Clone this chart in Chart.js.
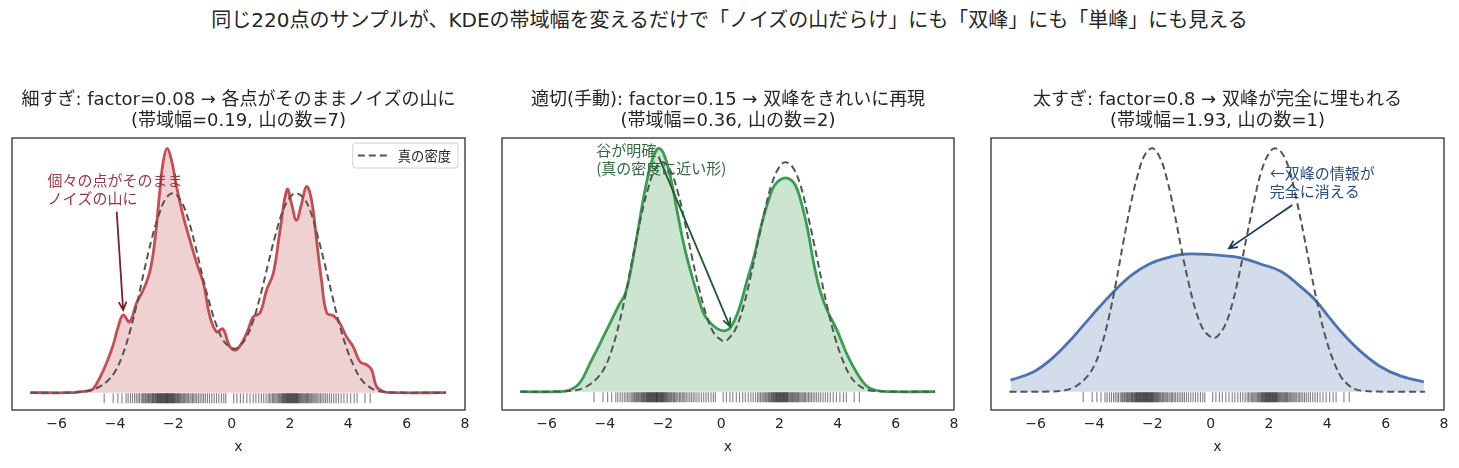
<!DOCTYPE html>
<html>
<head>
<meta charset="utf-8">
<script src="https://cdn.jsdelivr.net/npm/chart.js@4.4.1/dist/chart.umd.min.js"></script>
<style>
  body { margin: 0; background: #fff; width: 1459px; height: 468px; overflow: hidden; position: relative; }
  #sup { position: absolute; left: 0; top: 7px; width: 1459px; text-align: center; font-family: "DejaVu Sans", "Noto Sans CJK JP", sans-serif; font-size: 20px; line-height: 26px; color: #262626; }
  canvas { position: absolute; top: 0; }
</style>
</head>
<body>
<div id="sup">同じ220点のサンプルが、KDEの帯域幅を変えるだけで「ノイズの山だらけ」にも「双峰」にも「単峰」にも見える</div>
<canvas id="c1" width="477" height="468" style="left:0px"></canvas>
<canvas id="c2" width="476" height="468" style="left:490px"></canvas>
<canvas id="c3" width="477" height="468" style="left:979px"></canvas>
<script>
const xTicks = [-6, -4, -2, 0, 2, 4, 6, 8];

// 真の密度（破線）
const trueX = [-6.9, -5.5, -5.0, -4.75, -4.5, -4.25, -4.0, -3.75, -3.5, -3.25, -3.0, -2.75, -2.5, -2.25, -2.0,
  -1.75, -1.5, -1.25, -1.0, -0.75, -0.5, -0.25, 0.0, 0.1, 0.25, 0.5, 0.75, 1.0, 1.25, 1.5, 1.75, 2.0, 2.2,
  2.45, 2.7, 2.95, 3.2, 3.45, 3.7, 3.95, 4.2, 4.45, 4.7, 4.95, 5.2, 5.7, 7.35];
const trueY = [0, 0.0002, 0.0012, 0.003, 0.0065, 0.012, 0.021, 0.037, 0.06, 0.089, 0.122, 0.153, 0.178, 0.195, 0.2,
  0.193, 0.175, 0.148, 0.117, 0.089, 0.066, 0.051, 0.045, 0.044, 0.046, 0.055, 0.073, 0.099, 0.129, 0.158, 0.182, 0.196, 0.2,
  0.196, 0.182, 0.157, 0.128, 0.097, 0.068, 0.044, 0.026, 0.013, 0.006, 0.0022, 0.0008, 0.0001, 0];

// KDE factor=0.08
const narrowX = [-6.9, -5.5, -5.2, -4.9, -4.74, -4.5, -4.3, -4.06, -3.89, -3.72, -3.5, -3.26, -3.03, -2.8, -2.63,
  -2.46, -2.34, -2.21, -2.06, -1.89, -1.66, -1.43, -1.2, -0.97, -0.74, -0.51, -0.3, -0.06, 0.15, 0.35, 0.55,
  0.74, 0.97, 1.2, 1.43, 1.66, 1.9, 2.05, 2.22, 2.4, 2.57, 2.74, 2.91, 3.08, 3.26, 3.5, 3.7, 3.94, 4.17,
  4.4, 4.63, 4.8, 4.97, 5.2, 5.5, 7.35];
const narrowY = [0, 0, 0.001, 0.002, 0.004, 0.016, 0.029, 0.048, 0.066, 0.078, 0.071, 0.09, 0.103, 0.122, 0.153,
  0.203, 0.233, 0.245, 0.233, 0.207, 0.177, 0.153, 0.13, 0.11, 0.076, 0.061, 0.064, 0.046, 0.043, 0.05, 0.062,
  0.076, 0.08, 0.103, 0.12, 0.163, 0.204, 0.19, 0.173, 0.19, 0.207, 0.193, 0.153, 0.113, 0.08, 0.077, 0.07, 0.056, 0.046,
  0.031, 0.028, 0.023, 0.006, 0.001, 0, 0];

// KDE factor=0.15
const manualX = [-6.9, -5.6, -5.2, -4.85, -4.5, -4.2, -3.85, -3.5, -3.3, -3.12, -2.89, -2.66, -2.43, -2.26, -2.12,
  -1.95, -1.74, -1.51, -1.28, -1.05, -0.82, -0.6, -0.37, -0.14, 0.1, 0.32, 0.6, 0.89, 1.12, 1.35, 1.58,
  1.81, 2.04, 2.3, 2.55, 2.75, 2.96, 3.18, 3.41, 3.64, 3.99, 4.33, 4.67, 5.02, 5.36, 5.8, 7.35];
const manualY = [0, 0, 0.0015, 0.008, 0.025, 0.04, 0.058, 0.076, 0.085, 0.104, 0.136, 0.17, 0.197, 0.209, 0.212,
  0.206, 0.187, 0.157, 0.128, 0.105, 0.085, 0.068, 0.06, 0.055, 0.053, 0.056, 0.071, 0.097, 0.117, 0.142, 0.163,
  0.179, 0.185, 0.186, 0.18, 0.165, 0.143, 0.112, 0.087, 0.071, 0.053, 0.032, 0.016, 0.0045, 0.001, 0, 0];

// KDE factor=0.8
const wideX = [-6.86, -6.1, -5.5, -4.9, -4.35, -3.8, -3.25, -2.7, -2.1, -1.5, -0.9, -0.3, 0.35, 1.03, 1.71,
  2.4, 3.05, 3.6, 4.1, 4.6, 5.15, 5.8, 6.5, 7.31];
const wideY = [0.0095, 0.016, 0.026, 0.04, 0.055, 0.07, 0.084, 0.096, 0.105, 0.11, 0.113, 0.113, 0.112, 0.11, 0.105,
  0.099, 0.087, 0.075, 0.06, 0.046, 0.033, 0.021, 0.013, 0.008];

// サンプル（ラグ）
const rugX = [-4.37, -4.06, -3.9, -3.76, -3.62, -3.55, -3.47, -3.4, -3.33, -3.27, -3.21, -3.16, -3.1, -3.06, -3.02,
  -2.98, -2.95, -2.91, -2.88, -2.85, -2.82, -2.79, -2.76, -2.73, -2.71, -2.68, -2.66, -2.63, -2.61, -2.58, -2.56, -2.54, -2.52, -2.5,
  -2.48, -2.46, -2.44, -2.42, -2.4, -2.38, -2.36, -2.34, -2.32, -2.3, -2.28, -2.26, -2.24, -2.22, -2.21, -2.19, -2.17, -2.15,
  -2.13, -2.11, -2.09, -2.07, -2.05, -2.03, -2.01, -1.99, -1.97, -1.95, -1.92, -1.9, -1.87, -1.85, -1.82, -1.79, -1.76, -1.73,
  -1.7, -1.66, -1.63, -1.6, -1.56, -1.52,
  -1.48, -1.43, -1.39, -1.34, -1.3, -1.25, -1.2, -1.14, -1.08, -1.02, -0.96, -0.9, -0.83, -0.76, -0.68, -0.6, -0.52, -0.44,
  -0.35, -0.27, -0.2,
  0.07, 0.18, 0.3, 0.4, 0.52, 0.63, 0.74, 0.83, 0.93, 1.02, 1.1, 1.18,
  1.25, 1.3, 1.35, 1.4, 1.44, 1.48, 1.52, 1.56, 1.6, 1.63, 1.66, 1.69,
  1.72, 1.74, 1.77, 1.79, 1.81, 1.84, 1.86, 1.88, 1.9, 1.92, 1.94, 1.96, 1.98, 2.0, 2.02, 2.04, 2.06, 2.08, 2.1, 2.12,
  2.14, 2.16, 2.18, 2.2, 2.22, 2.24, 2.26, 2.28, 2.3, 2.33, 2.36, 2.39, 2.42, 2.45, 2.48, 2.51, 2.54, 2.57, 2.6, 2.63,
  2.66, 2.7, 2.74, 2.78,
  2.82, 2.86, 2.9, 2.95, 3.0, 3.05, 3.1, 3.16, 3.22, 3.28, 3.35, 3.42, 3.5,
  3.58, 3.66, 3.75, 3.85, 3.96, 4.08, 4.2, 4.3, 4.57, 4.75];

const pts = (xs, ys) => xs.map((x, i) => ({ x, y: ys[i] }));

const cjk = '"DejaVu Sans", "Noto Sans CJK JP", sans-serif';
const ink = '#262626';

const panels = [
  {
    id: 'c1',
    title: ['細すぎ: factor=0.08 → 各点がそのままノイズの山に', '(帯域幅=0.19, 山の数=7)'],
    kde: pts(narrowX, narrowY),
    line: '#c44e52', fill: 'rgba(196, 78, 82, 0.26)',
    yMin: -0.0174, yMax: 0.2555, rugY: -0.0056, legend: true,
    note: { lines: ['個々の点がそのまま', 'ノイズの山に'], x: -6.31, y: 0.2133, color: '#9c3644',
      from: [-3.94, 0.1815], to: [-3.72, 0.083], arrow: '#7f1f2c' }
  },
  {
    id: 'c2',
    title: ['適切(手動): factor=0.15 → 双峰をきれいに再現', '(帯域幅=0.36, 山の数=2)'],
    kde: pts(manualX, manualY),
    line: '#3a9e52', fill: 'rgba(85, 168, 104, 0.3)',
    yMin: -0.016, yMax: 0.2212, rugY: -0.0049, legend: false,
    note: { lines: ['谷が明確', '(真の密度に近い形)'], x: -4.29, y: 0.2107, color: '#2e6b40',
      from: [-2.15, 0.205], to: [0.3, 0.057], arrow: '#1f5a30' }
  },
  {
    id: 'c3',
    title: ['太すぎ: factor=0.8 → 双峰が完全に埋もれる', '(帯域幅=1.93, 山の数=1)'],
    kde: pts(wideX, wideY),
    line: '#4c72b0', fill: 'rgba(76, 114, 176, 0.25)',
    yMin: -0.015, yMax: 0.2085, rugY: -0.0046, legend: false,
    note: { lines: ['←双峰の情報が', '完全に消える'], x: 2.03, y: 0.1795, color: '#2b4c7e',
      from: [2.8, 0.1534], to: [0.63, 0.1178], arrow: '#1b3766' }
  }
];

const frameBox = {
  id: 'frameBox',
  afterDraw: chart => {
    const { ctx, chartArea: a } = chart;
    ctx.save();
    ctx.strokeStyle = ink;
    ctx.lineWidth = 1.25;
    ctx.strokeRect(a.left, a.top, a.right - a.left, a.bottom - a.top);
    ctx.restore();
  }
};

const insideLegend = {
  id: 'insideLegend',
  afterDraw: (chart, args, opts) => {
    if (!opts.show) return;
    const { ctx, chartArea: a } = chart;
    const ds = chart.data.datasets.find(d => d.label);
    ctx.save();
    ctx.font = '13.3px "Noto Sans CJK JP", sans-serif';
    const tw = ctx.measureText(ds.label).width;
    const w = 45 + tw + 7, h = 25;
    const x = a.right - 7 - w, y = a.top + 5;
    ctx.beginPath();
    ctx.roundRect(x, y, w, h, 3);
    ctx.fillStyle = 'rgba(255,255,255,0.85)';
    ctx.fill();
    ctx.strokeStyle = '#d0d0d0';
    ctx.lineWidth = 1;
    ctx.stroke();
    ctx.beginPath();
    ctx.setLineDash(ds.borderDash);
    ctx.strokeStyle = ds.borderColor;
    ctx.lineWidth = ds.borderWidth;
    ctx.moveTo(x + 5, y + h / 2);
    ctx.lineTo(x + 34, y + h / 2);
    ctx.stroke();
    ctx.setLineDash([]);
    ctx.fillStyle = ink;
    ctx.textBaseline = 'middle';
    ctx.fillText(ds.label, x + 45, y + h / 2 + 0.5);
    ctx.restore();
  }
};

const note = {
  id: 'note',
  afterDraw: (chart, args, n) => {
    if (!n || !n.lines) return;
    const { ctx, scales } = chart;
    const px = v => scales.x.getPixelForValue(v);
    const py = v => scales.y.getPixelForValue(v);
    ctx.save();
    // 矢印
    const x1 = px(n.from[0]), y1 = py(n.from[1]);
    const x2 = px(n.to[0]), y2 = py(n.to[1]);
    ctx.strokeStyle = n.arrow;
    ctx.lineWidth = 1.8;
    ctx.beginPath();
    ctx.moveTo(x1, y1);
    ctx.lineTo(x2, y2);
    const ang = Math.atan2(y2 - y1, x2 - x1);
    ctx.moveTo(x2 - 9 * Math.cos(ang - 0.45), y2 - 9 * Math.sin(ang - 0.45));
    ctx.lineTo(x2, y2);
    ctx.lineTo(x2 - 9 * Math.cos(ang + 0.45), y2 - 9 * Math.sin(ang + 0.45));
    ctx.stroke();
    // テキスト
    ctx.fillStyle = n.color;
    ctx.font = '15px "Noto Sans CJK JP", sans-serif';
    ctx.textBaseline = 'middle';
    n.lines.forEach((t, i) => ctx.fillText(t, px(n.x), py(n.y) + i * 18.5));
    ctx.restore();
  }
};

panels.forEach(p => {
  new Chart(document.getElementById(p.id), {
    type: 'line',
    data: {
      datasets: [
        {
          label: '真の密度',
          data: pts(trueX, trueY),
          borderColor: '#555555',
          borderWidth: 2,
          borderDash: [7, 4],
          fill: false,
          pointRadius: 0,
          tension: 0.4
        },
        {
          data: p.kde,
          borderColor: p.line,
          borderWidth: 2.8,
          backgroundColor: p.fill,
          fill: 'origin',
          pointRadius: 0,
          tension: 0.4
        },
        {
          data: rugX.map(x => ({ x, y: p.rugY })),
          showLine: false,
          pointStyle: 'line',
          pointRotation: 90,
          pointRadius: 5,
          pointBorderWidth: 1.1,
          pointBorderColor: 'rgba(0, 0, 0, 0.5)'
        }
      ]
    },
    options: {
      responsive: false,
      animation: false,
      devicePixelRatio: 1,
      events: [],
      layout: { padding: { top: 89.2, left: 12, right: 12, bottom: 12.4 } },
      scales: {
        x: {
          type: 'linear',
          min: -7.53,
          max: 8,
          afterBuildTicks: ax => { ax.ticks = xTicks.map(v => ({ value: v })); },
          grid: { display: false, drawTicks: false },
          border: { display: false },
          ticks: {
            font: { family: 'DejaVu Sans', size: 14 },
            color: ink,
            padding: 6,
            maxRotation: 0,
            autoSkip: false,
            callback: v => String(v).replace('-', '\u2212')
          },
          title: {
            display: true,
            text: 'x',
            font: { family: 'DejaVu Sans', size: 14 },
            color: ink,
            padding: { top: 0, bottom: 0 }
          }
        },
        y: { display: false, min: p.yMin, max: p.yMax }
      },
      plugins: {
        legend: { display: false },
        tooltip: { enabled: false },
        title: {
          display: true,
          text: p.title,
          color: ink,
          font: { family: cjk, size: 18, weight: 'normal', lineHeight: 1.2 },
          padding: { top: 0, bottom: 5.6 }
        },
        insideLegend: { show: p.legend },
        note: p.note
      }
    },
    plugins: [frameBox, insideLegend, note]
  });
});
</script>
</body>
</html>
